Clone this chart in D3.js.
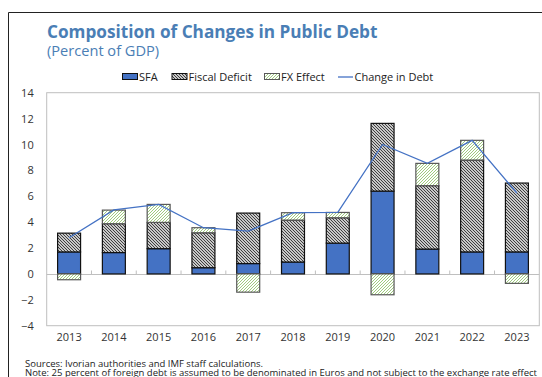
<!DOCTYPE html>
<html>
<head>
<meta charset="utf-8">
<script src="https://cdn.jsdelivr.net/npm/d3@7"></script>
<style>
  html, body { margin: 0; padding: 0; background: #fff; }
  svg { display: block; font-family: "Open Sans", "Noto Sans", sans-serif; }
</style>
</head>
<body>
<svg id="chart" width="542" height="377"></svg>
<script>
// Composition of changes in public debt, percent of GDP
const years = ["2013","2014","2015","2016","2017","2018","2019","2020","2021","2022","2023"];
const sfa = [1.7, 1.65, 1.95, 0.48, 0.8, 0.92, 2.38, 6.4, 1.92, 1.7, 1.7];
const fiscalDeficit = [1.45, 2.23, 2.03, 2.7, 3.9, 3.24, 1.96, 5.23, 4.9, 7.1, 5.32];
const fxEffect = [-0.45, 1.05, 1.39, 0.39, -1.41, 0.57, 0.41, -1.61, 1.72, 1.52, -0.73];
const changeInDebt = [2.8, 4.95, 5.37, 3.57, 3.3, 4.73, 4.75, 10.0, 8.54, 10.32, 6.25];
const yTicks = [-4, -2, 0, 2, 4, 6, 8, 10, 12, 14];

const seriesKeys = ["sfa", "fiscal", "fx"];
const rows = years.map((y, i) => ({ year: y, sfa: sfa[i], fiscal: fiscalDeficit[i], fx: fxEffect[i] }));

const svg = d3.select("#chart");
const titleColor = "#4A7EB5";
const blue = "#4472C4";

// hatch patterns
const defs = svg.append("defs");
const hatch = defs.append("pattern").attr("id", "hatchFiscal")
  .attr("patternUnits", "userSpaceOnUse").attr("width", 3).attr("height", 3);
hatch.append("rect").attr("width", 3).attr("height", 3).attr("fill", "#fff");
hatch.append("path").attr("d", "M-1,-1 L4,4 M-1,2 L1,4 M2,-1 L4,1")
  .attr("stroke", "#333").attr("stroke-width", 1.05);

const hatchFx = defs.append("pattern").attr("id", "hatchFx")
  .attr("patternUnits", "userSpaceOnUse").attr("width", 3).attr("height", 3);
hatchFx.append("rect").attr("width", 3).attr("height", 3).attr("fill", "#fff");
hatchFx.append("path").attr("d", "M-1,4 L4,-1 M-1,1 L1,-1 M2,4 L4,2")
  .attr("stroke", "#9FCB7E").attr("stroke-width", 1);

const fills = { sfa: blue, fiscal: "url(#hatchFiscal)", fx: "url(#hatchFx)" };
const strokes = { sfa: "#111", fiscal: "#111", fx: "#595959" };

// outer frame
svg.append("path").attr("d", "M8.5,377 L8.5,12.5 L542,12.5")
  .attr("fill", "none").attr("stroke", "#222").attr("stroke-width", 1);

// titles
svg.append("text").attr("x", 47).attr("y", 37.5)
  .attr("fill", titleColor).attr("font-weight", "bold").attr("font-size", 17.2)
  .text("Composition of Changes in Public Debt");
svg.append("text").attr("x", 47).attr("y", 56)
  .attr("fill", titleColor).attr("font-size", 14.6)
  .text("(Percent of GDP)");

// scales
const plotLeft = 46.7, plotRight = 539.3, plotTop = 92.7, plotBottom = 325.7;
const x = d3.scaleBand().domain(years).range([plotLeft, plotRight]).paddingInner(0.487).paddingOuter(0.2435);
const y = d3.scaleLinear().domain([-4, 14]).range([plotBottom, plotTop]);

// plot area border
svg.append("rect").attr("x", plotLeft).attr("y", plotTop)
  .attr("width", plotRight - plotLeft).attr("height", plotBottom - plotTop)
  .attr("fill", "none").attr("stroke", "#BFBFBF").attr("stroke-width", 1);

// y axis labels
const yAxis = d3.axisLeft(y).tickValues(yTicks).tickSize(0).tickPadding(13).tickFormat(d3.format("d"));
const gy = svg.append("g").attr("transform", `translate(${plotLeft},0)`).call(yAxis);
gy.select(".domain").remove();
gy.selectAll("text").attr("font-size", 11).attr("fill", "#333").attr("font-family", "Open Sans, sans-serif");

// zero line with category ticks
const y0 = Math.round(y(0)) + 0.5;
svg.append("line").attr("x1", plotLeft).attr("x2", plotRight).attr("y1", y0).attr("y2", y0)
  .attr("stroke", "#BFBFBF").attr("stroke-width", 1);
const step = x.step();
const bounds = d3.range(1, years.length).map(i => plotLeft + i * step);
svg.append("g").selectAll("line").data(bounds).join("line")
  .attr("x1", d => d).attr("x2", d => d).attr("y1", y0 - 4).attr("y2", y0)
  .attr("stroke", "#BFBFBF").attr("stroke-width", 1);

// x axis labels
const xAxis = d3.axisBottom(x).tickSize(0).tickPadding(0);
const gx = svg.append("g").attr("transform", `translate(0,${plotBottom + 7})`).call(xAxis);
gx.select(".domain").remove();
gx.selectAll("text").attr("font-size", 11).attr("fill", "#333").attr("font-family", "Open Sans, sans-serif");

// stacked bars
const stack = d3.stack().keys(seriesKeys).offset(d3.stackOffsetDiverging);
const layers = stack(rows);
svg.append("g").selectAll("g").data(layers).join("g")
  .attr("fill", d => fills[d.key]).attr("stroke", d => strokes[d.key]).attr("stroke-width", 1.2)
  .selectAll("rect").data(d => d).join("rect")
  .attr("x", d => x(d.data.year))
  .attr("width", x.bandwidth())
  .attr("y", d => y(Math.max(d[0], d[1])))
  .attr("height", d => Math.abs(y(d[0]) - y(d[1])));

// change in debt line
const line = d3.line().x((d, i) => x(years[i]) + x.bandwidth() / 2).y(d => y(d));
svg.append("path").datum(changeInDebt).attr("d", line)
  .attr("fill", "none").attr("stroke", blue).attr("stroke-width", 1.3);

// legend
const legend = svg.append("g").attr("font-size", 11).attr("fill", "#222");
const ly = 77;
const items = [
  { type: "box", key: "sfa", x: 122.5, label: "SFA" },
  { type: "box", key: "fiscal", x: 172, label: "Fiscal Deficit" },
  { type: "box", key: "fx", x: 264.5, label: "FX Effect" },
  { type: "line", x: 338, label: "Change in Debt" }
];
items.forEach(it => {
  if (it.type === "box") {
    legend.append("rect").attr("x", it.x).attr("y", ly - 3.5).attr("width", 15).attr("height", 6)
      .attr("fill", fills[it.key]).attr("stroke", strokes[it.key]).attr("stroke-width", 1);
  } else {
    legend.append("line").attr("x1", it.x).attr("x2", it.x + 15).attr("y1", ly).attr("y2", ly)
      .attr("stroke", blue).attr("stroke-width", 1.3);
  }
  legend.append("text").attr("x", it.x + 16.5).attr("y", ly + 4).text(it.label);
});

// source notes
const notes = svg.append("g").attr("font-size", 9.5).attr("fill", "#222");
notes.append("text").attr("x", 25).attr("y", 366.5).text("Sources: Ivorian authorities and IMF staff calculations.");
notes.append("text").attr("x", 25).attr("y", 375.5)
  .text("Note: 25 percent of foreign debt is assumed to be denominated in Euros and not subject to the exchange rate effect");
</script>
</body>
</html>
